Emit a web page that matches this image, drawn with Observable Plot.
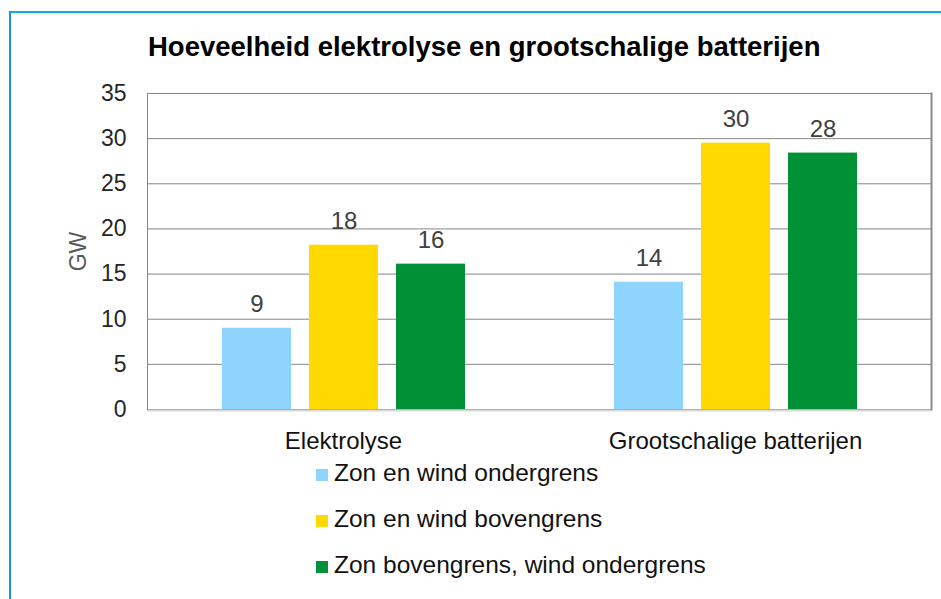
<!DOCTYPE html>
<html>
<head>
<meta charset="utf-8">
<script src="https://cdn.jsdelivr.net/npm/d3@7"></script>
<script src="https://cdn.jsdelivr.net/npm/@observablehq/plot@0.6"></script>
<style>
  body { margin: 0; background: #fff; }
  #wrap { position: relative; width: 941px; height: 599px; overflow: hidden; font-family: "Liberation Sans", Arial, sans-serif; background: #fff; }
  #frameTop { position: absolute; left: 9px; top: 11px; width: 940px; height: 2px; background: #12a8ec; }
  #frameLeft { position: absolute; left: 9px; top: 11px; width: 2px; height: 600px; background: #1592e0; }
  #title { position: absolute; left: 148px; top: 33px; font-size: 27.5px; line-height: 27px; font-weight: bold; color: #000; white-space: nowrap; }
  #chart { position: absolute; left: 0; top: 0; }
  #legend { position: absolute; left: 316px; top: 450px; }
  .row { display: flex; align-items: center; height: 46px; font-size: 24.5px; line-height: 24px; color: #111; white-space: nowrap; }
  .row .sw { width: 12px; height: 12px; margin-right: 6px; margin-top: 4px; }
  .row span { display: inline-block; }
</style>
</head>
<body>
<div id="wrap">
  <div id="frameTop"></div>
  <div id="frameLeft"></div>
  <div id="chart"></div>
  <div id="title"></div>
  <div id="legend"></div>
</div>
<script>
const chartTitle = "Hoeveelheid elektrolyse en grootschalige batterijen";
const categories = ["Elektrolyse", "Grootschalige batterijen"];
const series = ["Zon en wind ondergrens", "Zon en wind bovengrens", "Zon bovengrens, wind ondergrens"];
const seriesColors = ["#8fd3ff", "#ffd900", "#009036"];
const elektrolyseGW = [9.0, 18.2, 16.1];
const batterijenGW = [14.1, 29.5, 28.4];
const yTicks = [0, 5, 10, 15, 20, 25, 30, 35];
const yLabel = "GW";

const byCategory = [elektrolyseGW, batterijenGW];
const table = categories.flatMap((c, i) =>
  series.map((s, j) => ({category: c, series: s, value: byCategory[i][j]}))
);
const fmt = d3.format(".0f");

document.getElementById("title").textContent = chartTitle;

const plot = Plot.plot({
  width: 941,
  height: 470,
  marginLeft: 146,
  marginRight: 10,
  marginTop: 93,
  marginBottom: 61,
  style: {background: "transparent", fontFamily: "'Liberation Sans', Arial, sans-serif", overflow: "visible"},
  fx: {domain: categories, padding: 0, label: null},
  x: {domain: series, paddingInner: 0.21, paddingOuter: 0.853, axis: null},
  y: {domain: [0, 35], label: null},
  color: {domain: series, range: seriesColors},
  marks: [
    Plot.gridY(yTicks, {stroke: "#868686", strokeOpacity: 1}),
    Plot.ruleY([0], {stroke: "#d9d9d9", strokeWidth: 2, dy: 1}),
    Plot.frame({anchor: "left", facetAnchor: "left", stroke: "#868686"}),
    Plot.frame({anchor: "right", facetAnchor: "right", stroke: "#8a8a8a", strokeWidth: 2}),
    Plot.barY(table, {fx: "category", x: "series", y: "value", fill: "series"}),
    Plot.text(table, {fx: "category", x: "series", y: "value", text: d => fmt(d.value), dy: -24, fontSize: 24, fill: "#404040"}),
    Plot.text([yLabel], {text: d => d, frameAnchor: "left", textAnchor: "middle", dx: -69, rotate: -90, fontSize: 23, fill: "#595959", facetAnchor: "left"}),
    Plot.axisY(yTicks, {tickSize: 0, tickPadding: 21, fontSize: 23, fill: "#262626", label: null}),
    Plot.axisFx({anchor: "bottom", tickSize: 0, tickPadding: 22, fontSize: 24, fill: "#111", label: null})
  ]
});
document.getElementById("chart").appendChild(plot);

const legend = document.getElementById("legend");
series.forEach((s, i) => {
  const row = document.createElement("div");
  row.className = "row";
  const sw = document.createElement("div");
  sw.className = "sw";
  sw.style.background = seriesColors[i];
  const t = document.createElement("span");
  t.textContent = s;
  row.appendChild(sw);
  row.appendChild(t);
  legend.appendChild(row);
});
</script>
</body>
</html>
